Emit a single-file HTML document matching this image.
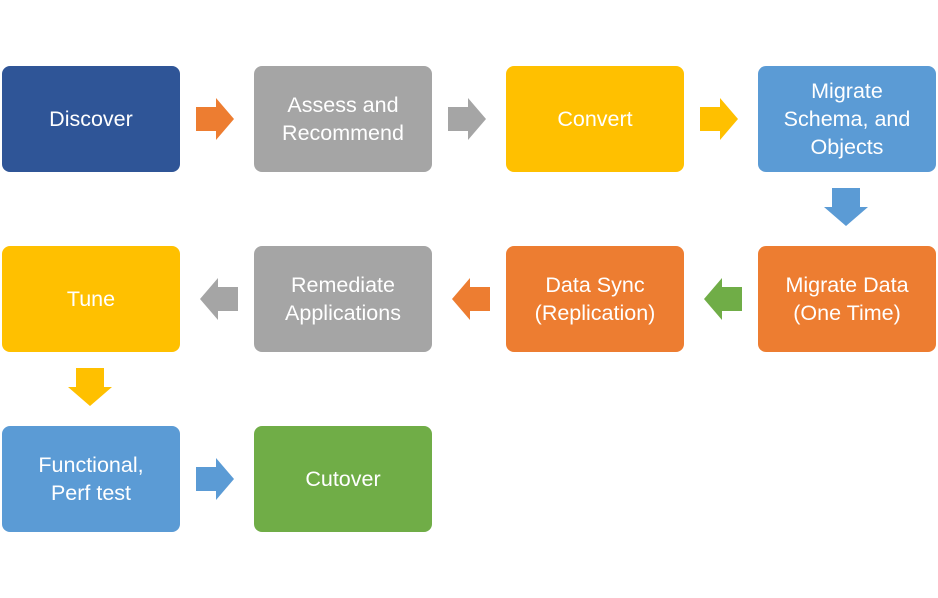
<!DOCTYPE html>
<html><head><style>
body{margin:0;width:938px;height:598px;background:#fff;position:relative;overflow:hidden;font-family:"Liberation Sans",sans-serif}
.b{position:absolute;width:178px;height:106px;border-radius:8px;color:#fff;display:flex;align-items:center;justify-content:center;text-align:center;font-size:21.5px;line-height:28px}
svg{position:absolute;left:0;top:0}
</style></head><body>
<div class="b" style="left:2px;top:66px;background:#2F5597">Discover</div>
<div class="b" style="left:254px;top:66px;background:#A5A5A5">Assess and<br>Recommend</div>
<div class="b" style="left:506px;top:66px;background:#FFC000">Convert</div>
<div class="b" style="left:758px;top:66px;background:#5B9BD5">Migrate<br>Schema, and<br>Objects</div>
<div class="b" style="left:2px;top:246px;background:#FFC000">Tune</div>
<div class="b" style="left:254px;top:246px;background:#A5A5A5">Remediate<br>Applications</div>
<div class="b" style="left:506px;top:246px;background:#ED7D31">Data Sync<br>(Replication)</div>
<div class="b" style="left:758px;top:246px;background:#ED7D31">Migrate Data<br>(One Time)</div>
<div class="b" style="left:2px;top:426px;background:#5B9BD5">Functional,<br>Perf test</div>
<div class="b" style="left:254px;top:426px;background:#70AD47">Cutover</div>
<svg width="938" height="598">
<defs>
<polygon id="r" points="0,-12 20,-12 20,-21 38,0 20,21 20,12 0,12"/>
<polygon id="d" points="-14,0 14,0 14,19 22,19 0,38 -22,19 -14,19"/>
</defs>
<use href="#r" x="196" y="119" fill="#ED7D31"/>
<use href="#r" x="448" y="119" fill="#A5A5A5"/>
<use href="#r" x="700" y="119" fill="#FFC000"/>
<use href="#d" x="846" y="188" fill="#5B9BD5"/>
<use href="#r" transform="translate(238,299) scale(-1,1)" fill="#A5A5A5"/>
<use href="#r" transform="translate(490,299) scale(-1,1)" fill="#ED7D31"/>
<use href="#r" transform="translate(742,299) scale(-1,1)" fill="#70AD47"/>
<use href="#d" x="90" y="368" fill="#FFC000"/>
<use href="#r" x="196" y="479" fill="#5B9BD5"/>
</svg>
</body></html>
